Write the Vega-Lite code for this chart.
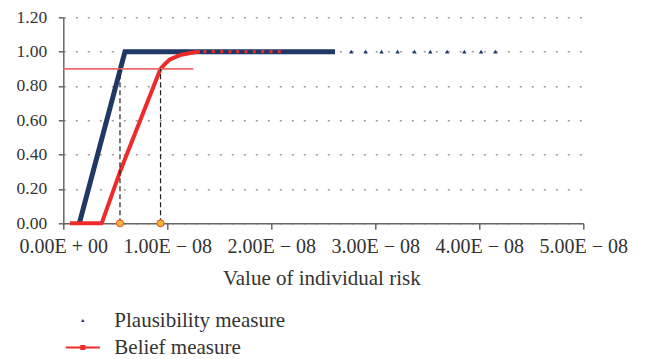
{
  "$schema": "https://vega.github.io/schema/vega-lite/v6.json",
  "width": 520,
  "height": 206,
  "autosize": {"type": "none"},
  "padding": {"left": 63.3, "top": 17.3, "right": 61.7, "bottom": 135.7},
  "background": "white",
  "config": {"view": {"stroke": null}, "font": "Liberation Serif"},
  "datasets": {
    "plaus": [
      {"series": "Plausibility measure", "x": 1.54e-9, "y": 0},
      {"series": "Plausibility measure", "x": 5.93e-9, "y": 1.0},
      {"series": "Plausibility measure", "x": 2.613e-8, "y": 1.0}
    ],
    "plausTail": [
      {"x": 2.768e-8, "y": 1.0}, {"x": 2.908e-8, "y": 1.0}, {"x": 3.06e-8, "y": 1.0},
      {"x": 3.214e-8, "y": 1.0}, {"x": 3.377e-8, "y": 1.0}, {"x": 3.529e-8, "y": 1.0},
      {"x": 3.69e-8, "y": 1.0}, {"x": 3.856e-8, "y": 1.0}, {"x": 4.017e-8, "y": 1.0},
      {"x": 4.154e-8, "y": 1.0}
    ],
    "belief": [
      {"series": "Belief measure", "x": 0.64e-9, "y": 0},
      {"series": "Belief measure", "x": 3.69e-9, "y": 0},
      {"series": "Belief measure", "x": 5.45e-9, "y": 0.30},
      {"series": "Belief measure", "x": 9.35e-9, "y": 0.90},
      {"series": "Belief measure", "x": 9.8e-9, "y": 0.93},
      {"series": "Belief measure", "x": 1.026e-8, "y": 0.955},
      {"series": "Belief measure", "x": 1.122e-8, "y": 0.98},
      {"series": "Belief measure", "x": 1.25e-8, "y": 0.995},
      {"series": "Belief measure", "x": 1.314e-8, "y": 1.0}
    ],
    "beliefDots": [
      {"x": 1.362e-8, "y": 1.0}, {"x": 1.442e-8, "y": 1.0}, {"x": 1.523e-8, "y": 1.0},
      {"x": 1.603e-8, "y": 1.0}, {"x": 1.677e-8, "y": 1.0}, {"x": 1.757e-8, "y": 1.0},
      {"x": 1.837e-8, "y": 1.0}, {"x": 1.917e-8, "y": 1.0}, {"x": 1.997e-8, "y": 1.0},
      {"x": 2.077e-8, "y": 1.0}
    ],
    "threshold": [{"x": 0, "x2": 1.25e-8, "y": 0.9}],
    "cuts": [
      {"x": 5.45e-9, "y": 0, "y2": 0.9},
      {"x": 9.35e-9, "y": 0, "y2": 0.9}
    ]
  },
  "encoding": {
    "x": {
      "field": "x",
      "type": "quantitative",
      "scale": {"domain": [0, 5e-8], "nice": false, "zero": false},
      "axis": {
        "values": [0, 1e-8, 2e-8, 3e-8, 4e-8, 5e-8],
        "labelExpr": "datum.value === 0 ? '0.00E + 00' : format(datum.value * 1e8, '.2f') + 'E − 08'",
        "grid": false,
        "domainColor": "#666666",
        "domainWidth": 1.5,
        "tickColor": "#666666",
        "tickSize": 6,
        "tickWidth": 1.5,
        "labelFont": "Liberation Serif",
        "labelFontSize": 20,
        "labelColor": "#333333",
        "labelPadding": 7,
        "labelFlush": false,
        "labelOverlap": false,
        "title": "Value of individual risk",
        "titleFont": "Liberation Serif",
        "titleFontSize": 21,
        "titleFontWeight": "normal",
        "titleColor": "#333333",
        "titleX": 258,
        "titleY": 61,
        "titleBaseline": "alphabetic",
        "titleAlign": "center"
      }
    },
    "y": {
      "field": "y",
      "type": "quantitative",
      "scale": {"domain": [0, 1.2], "nice": false, "zero": false},
      "axis": {
        "values": [0, 0.2, 0.4, 0.6, 0.8, 1.0, 1.2],
        "format": ".2f",
        "grid": true,
        "gridDash": [2, 10],
        "gridColor": "#9a9a9a",
        "gridWidth": 1.5,
        "domainColor": "#666666",
        "domainWidth": 1.5,
        "tickColor": "#666666",
        "tickSize": 5,
        "tickWidth": 1.5,
        "labelFont": "Liberation Serif",
        "labelFontSize": 17.5,
        "labelColor": "#333333",
        "labelPadding": 11.6,
        "title": null
      }
    }
  },
  "layer": [
    {
      "data": {"name": "plaus"},
      "mark": {"type": "line", "strokeWidth": 5, "strokeCap": "butt"},
      "encoding": {
        "color": {
          "field": "series",
          "type": "nominal",
          "scale": {"domain": ["Plausibility measure", "Belief measure"], "range": ["#1f3864", "#ee2a2a"]},
          "legend": {
            "title": null,
            "orient": "none",
            "legendX": 9,
            "legendY": 292.7,
            "direction": "vertical",
            "padding": 0,
            "labelFont": "Liberation Serif",
            "labelFontSize": 21,
            "labelColor": "#333333",
            "labelLimit": 400,
            "symbolSize": 100,
            "symbolStrokeWidth": 2,
            "labelOffset": 21,
            "rowPadding": 5,
            "encode": {
              "symbols": {
                "update": {
                  "shape": {"signal": "datum.value === 'Belief measure' ? 'M-1,0H1M-0.09,-0.09H0.09V0.09H-0.09Z' : 'triangle-up'"},
                  "size": {"signal": "datum.value === 'Belief measure' ? 1156 : 14"},
                  "fill": {"signal": "datum.value === 'Belief measure' ? '#d81f1f' : '#1f3864'"},
                  "stroke": {"signal": "datum.value === 'Belief measure' ? '#ef5b5b' : '#1f3864'"},
                  "strokeWidth": {"signal": "datum.value === 'Belief measure' ? 2 : 0"},
                  "opacity": {"value": 1},
                  "fillOpacity": {"value": 1}
                }
              }
            }
          }
        }
      }
    },
    {
      "data": {"name": "plausTail"},
      "mark": {"type": "point", "shape": "triangle-up", "filled": true, "size": 20, "color": "#1f3864", "opacity": 1}
    },
    {
      "data": {"name": "belief"},
      "mark": {"type": "line", "strokeWidth": 4, "strokeCap": "butt", "strokeJoin": "round"},
      "encoding": {
        "color": {
          "field": "series",
          "type": "nominal",
          "scale": {"domain": ["Plausibility measure", "Belief measure"], "range": ["#1f3864", "#ee2a2a"]}
        }
      }
    },
    {
      "data": {"name": "beliefDots"},
      "mark": {"type": "point", "shape": "square", "filled": true, "size": 9, "color": "#ee2a2a", "opacity": 1}
    },
    {
      "data": {"name": "threshold"},
      "mark": {"type": "rule", "color": "#f06a6a", "strokeWidth": 1.8},
      "encoding": {"x2": {"field": "x2"}}
    },
    {
      "data": {"name": "cuts"},
      "mark": {"type": "rule", "color": "#222222", "strokeWidth": 1.2, "strokeDash": [5, 3]},
      "encoding": {"y2": {"field": "y2"}}
    },
    {
      "data": {"name": "cuts"},
      "mark": {"type": "point", "shape": "circle", "filled": true, "size": 50, "fill": "#f7b733", "stroke": "#e8462e", "strokeWidth": 1, "opacity": 1},
      "encoding": {"y": {"datum": 0}}
    }
  ]
}
